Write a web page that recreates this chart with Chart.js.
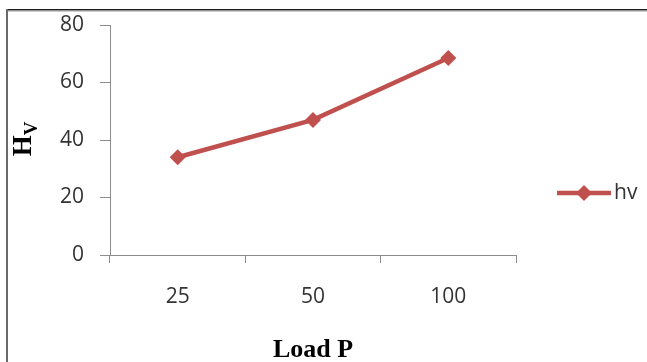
<!DOCTYPE html>
<html>
<head>
<meta charset="utf-8">
<script src="https://cdn.jsdelivr.net/npm/chart.js@4.4.1/dist/chart.umd.min.js"></script>
<style>
  html, body { margin: 0; padding: 0; background: #fff; }
  #wrap { position: relative; width: 647px; height: 362px; }
</style>
</head>
<body>
<div id="wrap"><canvas id="c" width="647" height="362"></canvas></div>
<script>
'use strict';

// ─── Data ────────────────────────────────────────────────────────────────────
const loads = ['25', '50', '100'];
const hvValues = [34, 47, 68.5];
const seriesName = 'hv';
const xTitle = 'Load P';

const RED = '#C0504D';
const AXIS = '#8c8c8c';
const SANS = "'Open Sans', 'Liberation Sans', sans-serif";
const SERIF = "'Liberation Serif', 'DejaVu Serif', serif";
const TICK_FONT = { family: SANS, size: 21 };

// frame, axis titles and legend drawn by hand (Excel look)
const excelDecor = {
  id: 'excelDecor',
  beforeDraw(chart) {
    const ctx = chart.ctx;
    ctx.save();
    ctx.fillStyle = '#fff';
    ctx.fillRect(0, 0, chart.width, chart.height);
    ctx.fillStyle = '#1a1a1a';
    ctx.fillRect(6, 9, chart.width - 6, 1.5);
    ctx.fillStyle = '#9a9a9a';
    ctx.fillRect(6, 10.5, chart.width - 6, 1);
    ctx.fillStyle = '#6a6a6a';
    ctx.fillRect(6, 9, 2, chart.height - 9);
    ctx.restore();
  },
  afterDraw(chart) {
    const ctx = chart.ctx;
    const area = chart.chartArea;

    // y axis title H_V
    ctx.save();
    ctx.translate(31, 139);
    ctx.rotate(-Math.PI / 2);
    ctx.fillStyle = '#000';
    ctx.textBaseline = 'alphabetic';
    ctx.font = 'bold 27px ' + SERIF;
    const wH = ctx.measureText('H').width;
    ctx.font = 'bold 19px ' + SERIF;
    const wV = ctx.measureText('V').width;
    const x0 = -(wH + wV) / 2;
    ctx.font = 'bold 27px ' + SERIF;
    ctx.fillText('H', x0, 0);
    ctx.font = 'bold 19px ' + SERIF;
    ctx.fillText('V', x0 + wH, 6);
    ctx.restore();

    // x axis title
    ctx.save();
    ctx.fillStyle = '#000';
    ctx.font = 'bold 26px ' + SERIF;
    ctx.textAlign = 'center';
    ctx.textBaseline = 'alphabetic';
    ctx.fillText(xTitle, (area.left + area.right) / 2, 357);
    ctx.restore();

    // legend
    ctx.save();
    const ly = 193;
    ctx.strokeStyle = RED;
    ctx.lineWidth = 4.5;
    ctx.beginPath();
    ctx.moveTo(557, ly);
    ctx.lineTo(611, ly);
    ctx.stroke();
    ctx.fillStyle = RED;
    ctx.beginPath();
    ctx.moveTo(584, ly - 8);
    ctx.lineTo(592, ly);
    ctx.lineTo(584, ly + 8);
    ctx.lineTo(576, ly);
    ctx.closePath();
    ctx.fill();
    ctx.fillStyle = '#333';
    ctx.font = '21px ' + SANS;
    ctx.textBaseline = 'middle';
    ctx.fillText(seriesName, 614, ly);
    ctx.restore();
  },
};

new Chart(document.getElementById('c'), {
  type: 'line',
  data: {
    labels: loads,
    datasets: [{
      label: seriesName,
      data: hvValues,
      borderColor: RED,
      backgroundColor: RED,
      borderWidth: 4.5,
      pointStyle: 'rectRot',
      pointRadius: 8,
      pointHoverRadius: 8,
      pointBorderWidth: 0,
      tension: 0,
    }],
  },
  options: {
    responsive: false,
    animation: false,
    devicePixelRatio: 1,
    layout: { padding: { left: 0, right: 131, top: 25, bottom: 0 } },
    plugins: { legend: { display: false }, tooltip: { enabled: false } },
    scales: {
      x: {
        type: 'category',
        offset: true,
        grid: { offset: true, drawOnChartArea: false, color: AXIS, tickLength: 8, tickColor: AXIS },
        border: { color: AXIS, width: 1 },
        ticks: { color: '#333', font: TICK_FONT, padding: 21 },
        afterFit(scale) {
          scale.height = 107;
          scale.paddingLeft = 0;
          scale.paddingRight = 0;
        },
      },
      y: {
        min: 0,
        max: 80,
        ticks: { stepSize: 20, color: '#333', font: TICK_FONT, padding: 16 },
        grid: { drawOnChartArea: false, color: AXIS, tickLength: 10, tickColor: AXIS },
        border: { color: AXIS, width: 1 },
        afterFit(scale) {
          scale.width = 110;
          scale.paddingTop = 0;
          scale.paddingBottom = 0;
        },
      },
    },
  },
  plugins: [excelDecor],
});
</script>
</body>
</html>
